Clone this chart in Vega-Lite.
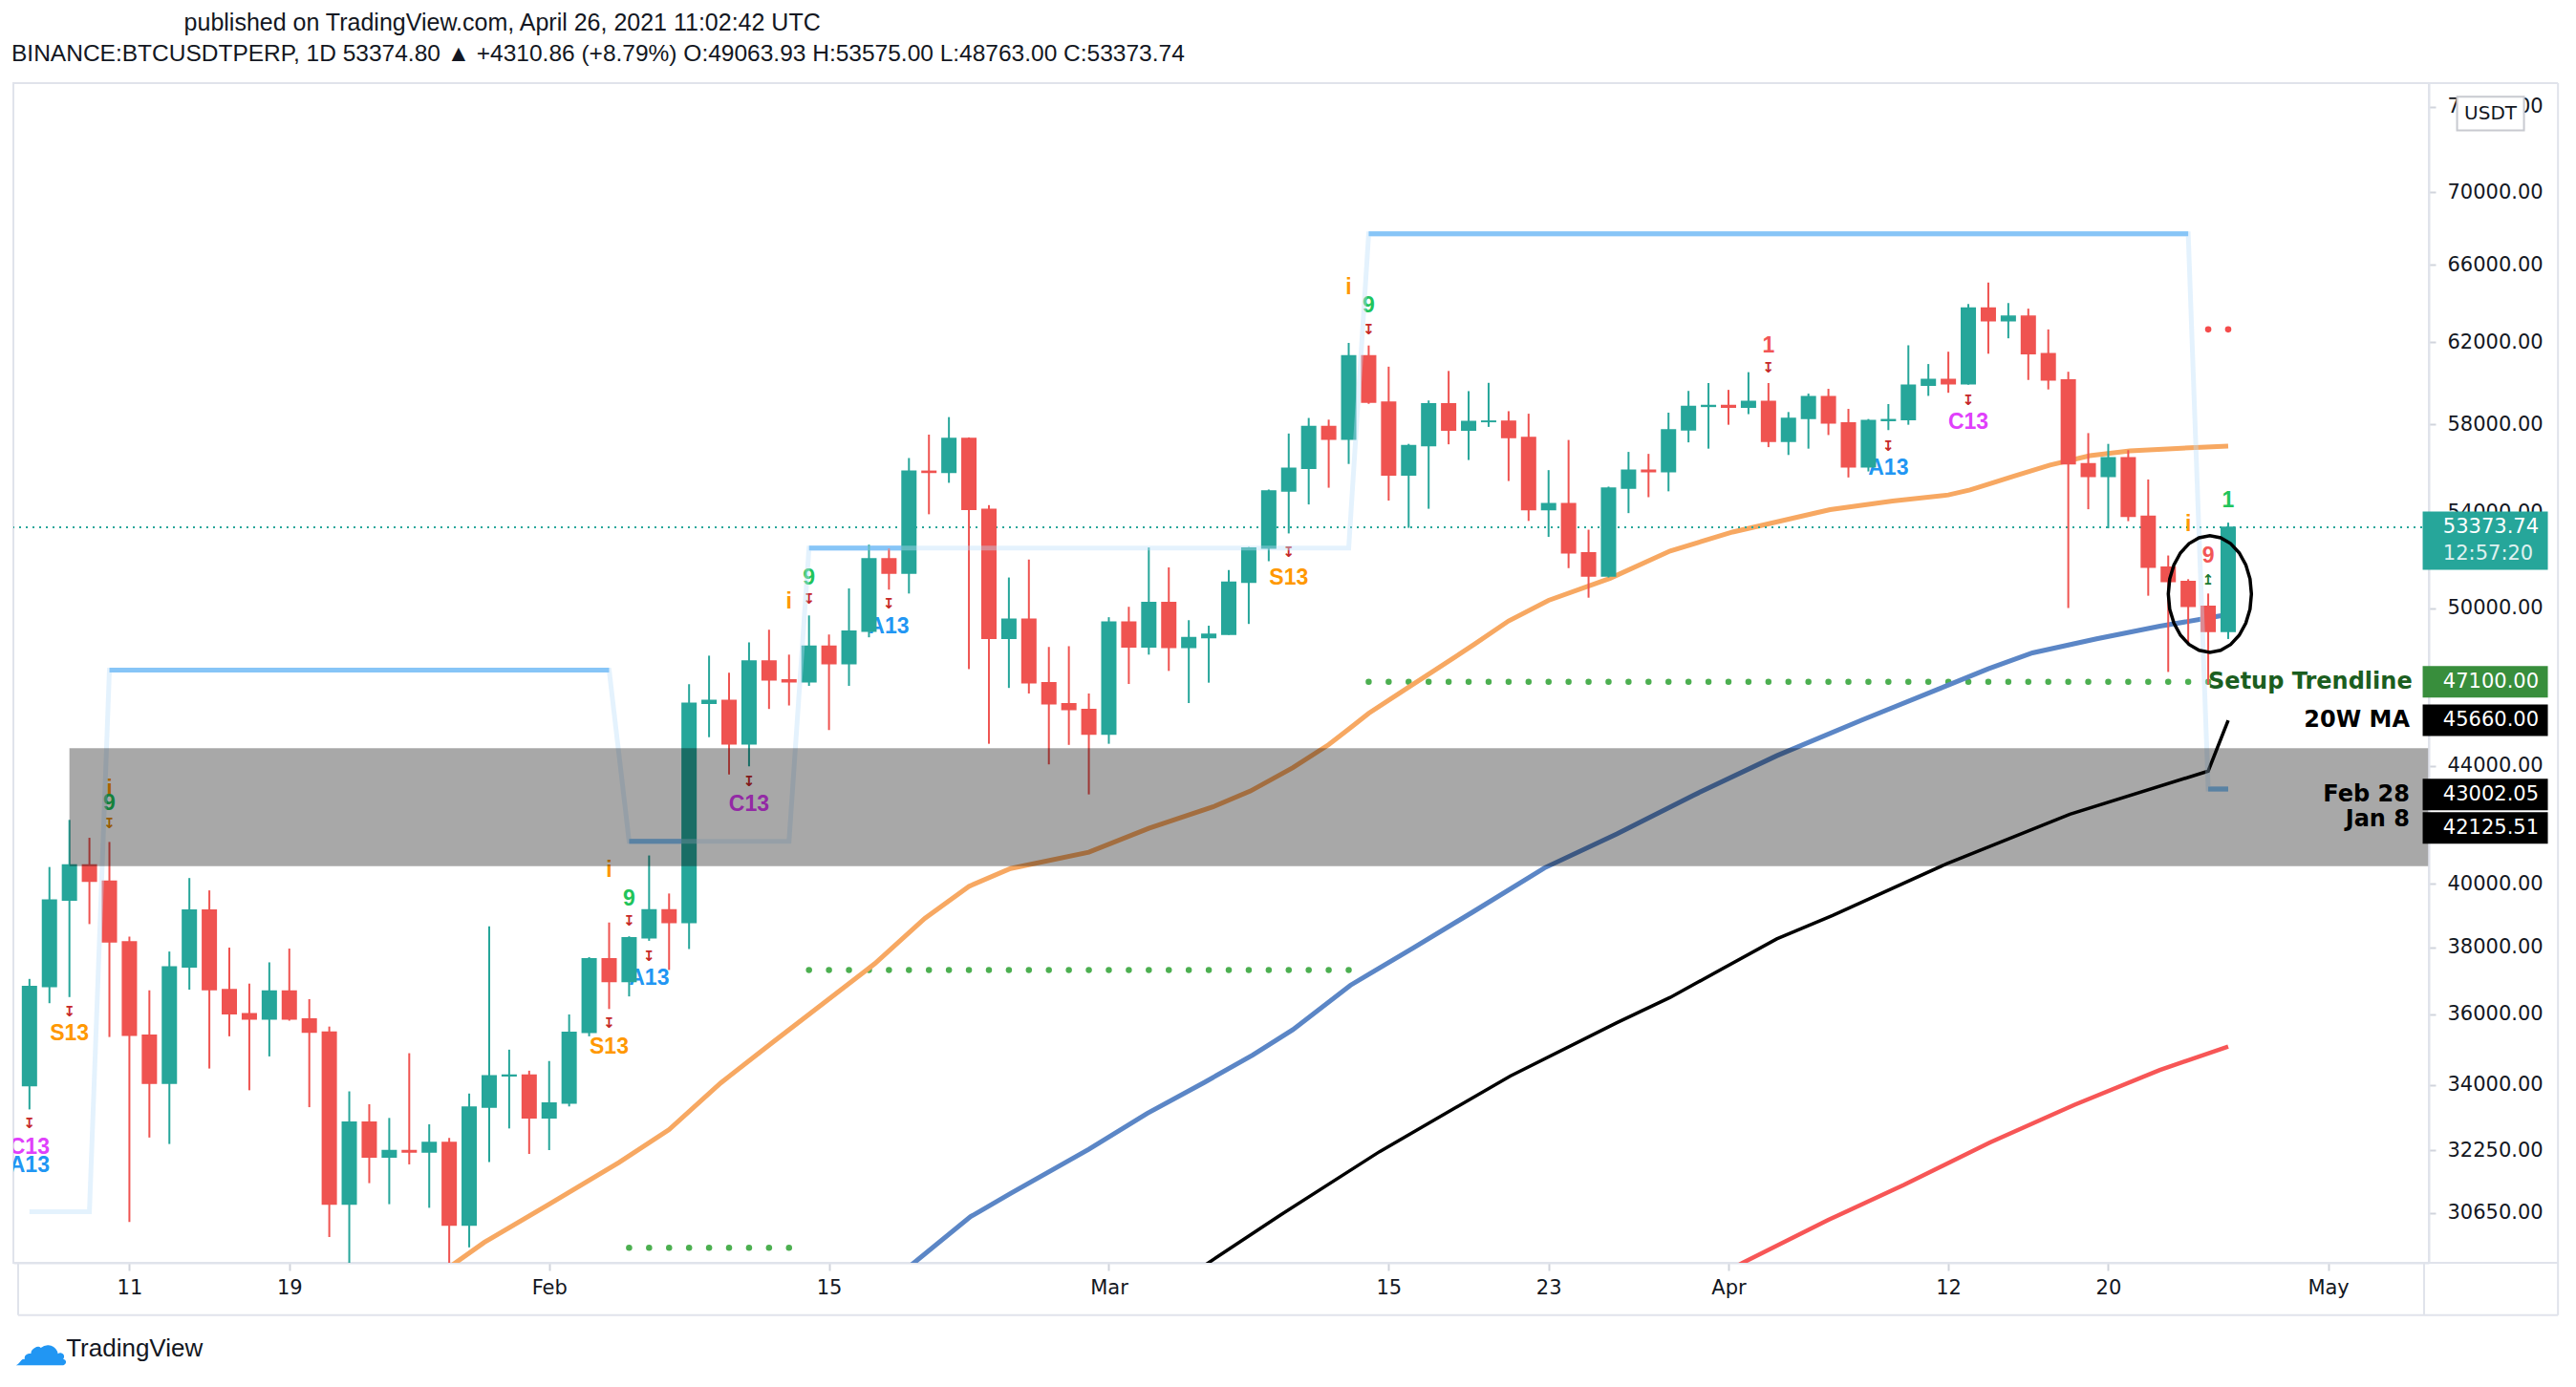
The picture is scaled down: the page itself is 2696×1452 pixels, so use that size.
{
"$schema": "https://vega.github.io/schema/vega-lite/v6.json",
"width": 2528, "height": 1235,
"autosize": {"type": "none"},
"padding": {"left": 14, "top": 87, "right": 154, "bottom": 130},
"background": "#ffffff",
"title": {
 "text": "\u200b\u00a0\u00a0\u00a0\u00a0\u00a0\u00a0\u00a0\u00a0\u00a0\u00a0\u00a0\u00a0\u00a0\u00a0\u00a0\u00a0\u00a0\u00a0\u00a0\u00a0\u00a0\u00a0\u00a0\u00a0\u00a0\u00a0published on TradingView.com, April 26, 2021 11:02:42 UTC",
 "subtitle": "BINANCE:BTCUSDTPERP, 1D 53374.80 ▲ +4310.86 (+8.79%) O:49063.93 H:53575.00 L:48763.00 C:53373.74",
 "anchor": "start", "frame": "group", "dx": -2, "offset": 18,
 "font": "Liberation Sans", "fontSize": 25, "fontWeight": "normal", "color": "#131722",
 "subtitleFont": "Liberation Sans", "subtitleFontSize": 24.5, "subtitleColor": "#131722", "subtitlePadding": 8
},
"config": {"view": {"stroke": "#e0e3eb", "strokeWidth": 2}},
"datasets": {
 "candles": [
  {"d":"2021-01-06","o":33980,"h":37040,"l":33330,"c":36810},
  {"d":"2021-01-07","o":36810,"h":40550,"l":36320,"c":39480},
  {"d":"2021-01-08","o":39480,"h":42125,"l":36500,"c":40620},
  {"d":"2021-01-09","o":40620,"h":41520,"l":38720,"c":40090},
  {"d":"2021-01-10","o":40090,"h":41380,"l":35340,"c":38170},
  {"d":"2021-01-11","o":38170,"h":38330,"l":30430,"c":35390},
  {"d":"2021-01-12","o":35390,"h":36700,"l":32580,"c":34040},
  {"d":"2021-01-13","o":34040,"h":37870,"l":32410,"c":37400},
  {"d":"2021-01-14","o":37400,"h":40190,"l":36720,"c":39160},
  {"d":"2021-01-15","o":39160,"h":39790,"l":34450,"c":36720},
  {"d":"2021-01-16","o":36720,"h":37990,"l":35360,"c":36010},
  {"d":"2021-01-17","o":36010,"h":36900,"l":33850,"c":35860},
  {"d":"2021-01-18","o":35860,"h":37540,"l":34790,"c":36680},
  {"d":"2021-01-19","o":36680,"h":37960,"l":35810,"c":35860},
  {"d":"2021-01-20","o":35860,"h":36440,"l":33390,"c":35480},
  {"d":"2021-01-21","o":35480,"h":35640,"l":30060,"c":30870},
  {"d":"2021-01-22","o":30870,"h":33820,"l":28850,"c":32990},
  {"d":"2021-01-23","o":32990,"h":33470,"l":31400,"c":32070},
  {"d":"2021-01-24","o":32070,"h":33100,"l":30870,"c":32240},
  {"d":"2021-01-25","o":32240,"h":34880,"l":31880,"c":32200},
  {"d":"2021-01-26","o":32200,"h":32930,"l":30780,"c":32450},
  {"d":"2021-01-27","o":32450,"h":32570,"l":29240,"c":30350},
  {"d":"2021-01-28","o":30350,"h":33760,"l":29810,"c":33390},
  {"d":"2021-01-29","o":33390,"h":38650,"l":31940,"c":34250},
  {"d":"2021-01-30","o":34250,"h":34980,"l":32820,"c":34270},
  {"d":"2021-01-31","o":34270,"h":34390,"l":32150,"c":33100},
  {"d":"2021-02-01","o":33100,"h":34660,"l":32250,"c":33500},
  {"d":"2021-02-02","o":33500,"h":35990,"l":33410,"c":35470},
  {"d":"2021-02-03","o":35470,"h":37700,"l":35360,"c":37650},
  {"d":"2021-02-04","o":37650,"h":38770,"l":36150,"c":36960},
  {"d":"2021-02-05","o":36960,"h":38340,"l":36520,"c":38290},
  {"d":"2021-02-06","o":38290,"h":40930,"l":38200,"c":39170},
  {"d":"2021-02-07","o":39170,"h":39690,"l":37310,"c":38770},
  {"d":"2021-02-08","o":38770,"h":47010,"l":37950,"c":46290},
  {"d":"2021-02-09","o":46290,"h":48110,"l":45040,"c":46400},
  {"d":"2021-02-10","o":46400,"h":47450,"l":43700,"c":44800},
  {"d":"2021-02-11","o":44800,"h":48630,"l":43990,"c":47900},
  {"d":"2021-02-12","o":47900,"h":49130,"l":46080,"c":47180},
  {"d":"2021-02-13","o":47180,"h":48150,"l":46210,"c":47100},
  {"d":"2021-02-14","o":47100,"h":49700,"l":46950,"c":48480},
  {"d":"2021-02-15","o":48480,"h":48940,"l":45300,"c":47800},
  {"d":"2021-02-16","o":47800,"h":50800,"l":46950,"c":49070},
  {"d":"2021-02-17","o":49070,"h":52630,"l":48830,"c":52030},
  {"d":"2021-02-18","o":52030,"h":52470,"l":50750,"c":51430},
  {"d":"2021-02-19","o":51430,"h":56450,"l":50590,"c":55850},
  {"d":"2021-02-20","o":55850,"h":57530,"l":53940,"c":55800},
  {"d":"2021-02-21","o":55800,"h":58350,"l":55330,"c":57350},
  {"d":"2021-02-22","o":57350,"h":57400,"l":47590,"c":54150},
  {"d":"2021-02-23","o":54150,"h":54340,"l":44800,"c":48790},
  {"d":"2021-02-24","o":48790,"h":51250,"l":46870,"c":49550},
  {"d":"2021-02-25","o":49550,"h":52000,"l":46660,"c":47070},
  {"d":"2021-02-26","o":47070,"h":48450,"l":44060,"c":46270},
  {"d":"2021-02-27","o":46270,"h":48480,"l":44760,"c":46060},
  {"d":"2021-02-28","o":46060,"h":46660,"l":43002,"c":45150},
  {"d":"2021-03-01","o":45150,"h":49630,"l":44800,"c":49430},
  {"d":"2021-03-02","o":49430,"h":50050,"l":47020,"c":48450},
  {"d":"2021-03-03","o":48450,"h":52510,"l":48150,"c":50220},
  {"d":"2021-03-04","o":50220,"h":51670,"l":47520,"c":48430},
  {"d":"2021-03-05","o":48430,"h":49510,"l":46300,"c":48820},
  {"d":"2021-03-06","o":48820,"h":49290,"l":47070,"c":48950},
  {"d":"2021-03-07","o":48950,"h":51560,"l":48930,"c":51050},
  {"d":"2021-03-08","o":51050,"h":52530,"l":49360,"c":52480},
  {"d":"2021-03-09","o":52480,"h":55030,"l":51930,"c":54970},
  {"d":"2021-03-10","o":54970,"h":57580,"l":53110,"c":55980},
  {"d":"2021-03-11","o":55980,"h":58310,"l":54370,"c":57910},
  {"d":"2021-03-12","o":57910,"h":58230,"l":55110,"c":57320},
  {"d":"2021-03-13","o":57320,"h":61960,"l":56180,"c":61320},
  {"d":"2021-03-14","o":61320,"h":61830,"l":58980,"c":59060},
  {"d":"2021-03-15","o":59060,"h":60780,"l":54540,"c":55680},
  {"d":"2021-03-16","o":55680,"h":57100,"l":53350,"c":57020},
  {"d":"2021-03-17","o":57020,"h":59140,"l":54180,"c":58980},
  {"d":"2021-03-18","o":58980,"h":60570,"l":57080,"c":57740},
  {"d":"2021-03-19","o":57740,"h":59590,"l":56360,"c":58140},
  {"d":"2021-03-20","o":58140,"h":59990,"l":57890,"c":58160},
  {"d":"2021-03-21","o":58160,"h":58630,"l":55410,"c":57390},
  {"d":"2021-03-22","o":57390,"h":58510,"l":53650,"c":54140},
  {"d":"2021-03-23","o":54140,"h":55900,"l":52960,"c":54410},
  {"d":"2021-03-24","o":54410,"h":57280,"l":51640,"c":52280},
  {"d":"2021-03-25","o":52280,"h":53270,"l":50420,"c":51310},
  {"d":"2021-03-26","o":51310,"h":55160,"l":51250,"c":55090},
  {"d":"2021-03-27","o":55090,"h":56730,"l":53990,"c":55900},
  {"d":"2021-03-28","o":55900,"h":56640,"l":54690,"c":55830},
  {"d":"2021-03-29","o":55830,"h":58560,"l":54950,"c":57750},
  {"d":"2021-03-30","o":57750,"h":59600,"l":57170,"c":58860},
  {"d":"2021-03-31","o":58860,"h":59980,"l":56880,"c":58900},
  {"d":"2021-04-01","o":58900,"h":59650,"l":57990,"c":58820},
  {"d":"2021-04-02","o":58820,"h":60510,"l":58490,"c":59090},
  {"d":"2021-04-03","o":59090,"h":59980,"l":56950,"c":57220},
  {"d":"2021-04-04","o":57220,"h":58590,"l":56590,"c":58290},
  {"d":"2021-04-05","o":58290,"h":59470,"l":56880,"c":59320},
  {"d":"2021-04-06","o":59320,"h":59700,"l":57510,"c":58080},
  {"d":"2021-04-07","o":58080,"h":58740,"l":55570,"c":56050},
  {"d":"2021-04-08","o":56050,"h":58260,"l":55840,"c":58190},
  {"d":"2021-04-09","o":58190,"h":58970,"l":57740,"c":58230},
  {"d":"2021-04-10","o":58230,"h":61840,"l":57990,"c":59880},
  {"d":"2021-04-11","o":59880,"h":60910,"l":59360,"c":60150},
  {"d":"2021-04-12","o":60150,"h":61520,"l":59510,"c":59950},
  {"d":"2021-04-13","o":59950,"h":63940,"l":59900,"c":63730},
  {"d":"2021-04-14","o":63730,"h":65060,"l":61420,"c":63080},
  {"d":"2021-04-15","o":63080,"h":63990,"l":62190,"c":63310},
  {"d":"2021-04-16","o":63310,"h":63700,"l":60130,"c":61420},
  {"d":"2021-04-17","o":61420,"h":62640,"l":59670,"c":60130},
  {"d":"2021-04-18","o":60130,"h":60530,"l":50000,"c":56190},
  {"d":"2021-04-19","o":56190,"h":57600,"l":54160,"c":55620},
  {"d":"2021-04-20","o":55620,"h":57100,"l":53330,"c":56460},
  {"d":"2021-04-21","o":56460,"h":56810,"l":53640,"c":53850},
  {"d":"2021-04-22","o":53850,"h":55480,"l":50500,"c":51680},
  {"d":"2021-04-23","o":51680,"h":52170,"l":47480,"c":51080},
  {"d":"2021-04-24","o":51080,"h":51180,"l":48640,"c":50070},
  {"d":"2021-04-25","o":50070,"h":50590,"l":47000,"c":49064},
  {"d":"2021-04-26","o":49064,"h":53575,"l":48763,"c":53374}
 ],
 "ma": [
  {"s":"o","d":"2021-01-26","v":29000},
  {"s":"o","d":"2021-01-28T18:00:00Z","v":29930},
  {"s":"o","d":"2021-02-01","v":30870},
  {"s":"o","d":"2021-02-04T12:00:00Z","v":31930},
  {"s":"o","d":"2021-02-07","v":32790},
  {"s":"o","d":"2021-02-09T14:00:00Z","v":34050},
  {"s":"o","d":"2021-02-12T05:00:00Z","v":35200},
  {"s":"o","d":"2021-02-14T17:00:00Z","v":36310},
  {"s":"o","d":"2021-02-17T07:00:00Z","v":37500},
  {"s":"o","d":"2021-02-19T19:00:00Z","v":38900},
  {"s":"o","d":"2021-02-22","v":39920},
  {"s":"o","d":"2021-02-24T02:00:00Z","v":40500},
  {"s":"o","d":"2021-02-28","v":41040},
  {"s":"o","d":"2021-03-03","v":41840},
  {"s":"o","d":"2021-03-06T05:00:00Z","v":42570},
  {"s":"o","d":"2021-03-08T02:00:00Z","v":43120},
  {"s":"o","d":"2021-03-10T05:00:00Z","v":43940},
  {"s":"o","d":"2021-03-12","v":44770},
  {"s":"o","d":"2021-03-13T07:00:00Z","v":45500},
  {"s":"o","d":"2021-03-14","v":45920},
  {"s":"o","d":"2021-03-16","v":46900},
  {"s":"o","d":"2021-03-17T10:00:00Z","v":47600},
  {"s":"o","d":"2021-03-19T07:00:00Z","v":48560},
  {"s":"o","d":"2021-03-21","v":49480},
  {"s":"o","d":"2021-03-23","v":50310},
  {"s":"o","d":"2021-03-26T02:00:00Z","v":51220},
  {"s":"o","d":"2021-03-29T02:00:00Z","v":52360},
  {"s":"o","d":"2021-04-01T05:00:00Z","v":53170},
  {"s":"o","d":"2021-04-06T02:00:00Z","v":54140},
  {"s":"o","d":"2021-04-09T05:00:00Z","v":54520},
  {"s":"o","d":"2021-04-12","v":54790},
  {"s":"o","d":"2021-04-13T02:00:00Z","v":55010},
  {"s":"o","d":"2021-04-15T07:00:00Z","v":55630},
  {"s":"o","d":"2021-04-17T02:00:00Z","v":56130},
  {"s":"o","d":"2021-04-19T02:00:00Z","v":56560},
  {"s":"o","d":"2021-04-21T02:00:00Z","v":56780},
  {"s":"o","d":"2021-04-23T05:00:00Z","v":56880},
  {"s":"o","d":"2021-04-26","v":57000},
  {"s":"b","d":"2021-02-18T12:00:00Z","v":29150},
  {"s":"b","d":"2021-02-22T02:00:00Z","v":30560},
  {"s":"b","d":"2021-02-24T02:00:00Z","v":31140},
  {"s":"b","d":"2021-02-28","v":32270},
  {"s":"b","d":"2021-03-02T22:00:00Z","v":33220},
  {"s":"b","d":"2021-03-05T19:00:00Z","v":34070},
  {"s":"b","d":"2021-03-08T05:00:00Z","v":34830},
  {"s":"b","d":"2021-03-10T05:00:00Z","v":35550},
  {"s":"b","d":"2021-03-13T02:00:00Z","v":36850},
  {"s":"b","d":"2021-03-16T06:00:00Z","v":37990},
  {"s":"b","d":"2021-03-19T05:00:00Z","v":39100},
  {"s":"b","d":"2021-03-22T19:00:00Z","v":40520},
  {"s":"b","d":"2021-03-26T10:00:00Z","v":41650},
  {"s":"b","d":"2021-03-30T05:00:00Z","v":42960},
  {"s":"b","d":"2021-04-03T10:00:00Z","v":44370},
  {"s":"b","d":"2021-04-07T17:00:00Z","v":45680},
  {"s":"b","d":"2021-04-12","v":46980},
  {"s":"b","d":"2021-04-14","v":47600},
  {"s":"b","d":"2021-04-16T05:00:00Z","v":48220},
  {"s":"b","d":"2021-04-19T10:00:00Z","v":48770},
  {"s":"b","d":"2021-04-22T14:00:00Z","v":49270},
  {"s":"b","d":"2021-04-25T19:00:00Z","v":49710},
  {"s":"b","d":"2021-04-26","v":49790},
  {"s":"k","d":"2021-03-05","v":29100},
  {"s":"k","d":"2021-03-05T22:00:00Z","v":29420},
  {"s":"k","d":"2021-03-09T11:00:00Z","v":30560},
  {"s":"k","d":"2021-03-14T13:00:00Z","v":32210},
  {"s":"k","d":"2021-03-21T02:00:00Z","v":34240},
  {"s":"k","d":"2021-03-26T10:00:00Z","v":35750},
  {"s":"k","d":"2021-03-29T02:00:00Z","v":36490},
  {"s":"k","d":"2021-04-03T10:00:00Z","v":38260},
  {"s":"k","d":"2021-04-06T05:00:00Z","v":38990},
  {"s":"k","d":"2021-04-11T23:00:00Z","v":40670},
  {"s":"k","d":"2021-04-18T02:00:00Z","v":42320},
  {"s":"k","d":"2021-04-25","v":43820},
  {"s":"k","d":"2021-04-26","v":45660},
  {"s":"r","d":"2021-04-01","v":29250},
  {"s":"r","d":"2021-04-01T17:00:00Z","v":29440},
  {"s":"r","d":"2021-04-06","v":30480},
  {"s":"r","d":"2021-04-09T19:00:00Z","v":31360},
  {"s":"r","d":"2021-04-14T02:00:00Z","v":32450},
  {"s":"r","d":"2021-04-18T07:00:00Z","v":33450},
  {"s":"r","d":"2021-04-22T14:00:00Z","v":34410},
  {"s":"r","d":"2021-04-26","v":35070}
 ],
 "tdst": [
  {"d":"2021-01-06","v":30680},{"d":"2021-01-09","v":30680},
  {"d":"2021-01-10","v":47550},{"d":"2021-02-04","v":47550},
  {"d":"2021-02-05","v":41400},{"d":"2021-02-13","v":41400},
  {"d":"2021-02-14","v":52480},{"d":"2021-03-13","v":52480},
  {"d":"2021-03-14","v":67680},{"d":"2021-04-24","v":67680},
  {"d":"2021-04-25","v":43190},{"d":"2021-04-26","v":43190}
 ],
 "tdseg": [
  {"g":"A","d":"2021-01-10","v":47550},{"g":"A","d":"2021-02-04","v":47550},
  {"g":"B","d":"2021-02-05","v":41400},{"g":"B","d":"2021-02-08","v":41400},
  {"g":"C","d":"2021-02-14","v":52480},{"g":"C","d":"2021-02-19","v":52480},
  {"g":"D","d":"2021-03-14","v":67680},{"g":"D","d":"2021-04-24","v":67680},
  {"g":"E","d":"2021-04-25","v":43190},{"g":"E","d":"2021-04-26","v":43190}
 ],
 "dots": [
  {"d":"2021-02-05","v":29800},{"d":"2021-02-06","v":29800},{"d":"2021-02-07","v":29800},{"d":"2021-02-08","v":29800},{"d":"2021-02-09","v":29800},{"d":"2021-02-10","v":29800},{"d":"2021-02-11","v":29800},{"d":"2021-02-12","v":29800},{"d":"2021-02-13","v":29800},
  {"d":"2021-02-14","v":37310},{"d":"2021-02-15","v":37310},{"d":"2021-02-16","v":37310},{"d":"2021-02-17","v":37310},{"d":"2021-02-18","v":37310},{"d":"2021-02-19","v":37310},{"d":"2021-02-20","v":37310},{"d":"2021-02-21","v":37310},{"d":"2021-02-22","v":37310},{"d":"2021-02-23","v":37310},{"d":"2021-02-24","v":37310},{"d":"2021-02-25","v":37310},{"d":"2021-02-26","v":37310},{"d":"2021-02-27","v":37310},{"d":"2021-02-28","v":37310},
  {"d":"2021-03-01","v":37310},{"d":"2021-03-02","v":37310},{"d":"2021-03-03","v":37310},{"d":"2021-03-04","v":37310},{"d":"2021-03-05","v":37310},{"d":"2021-03-06","v":37310},{"d":"2021-03-07","v":37310},{"d":"2021-03-08","v":37310},{"d":"2021-03-09","v":37310},{"d":"2021-03-10","v":37310},{"d":"2021-03-11","v":37310},{"d":"2021-03-12","v":37310},{"d":"2021-03-13","v":37310},
  {"d":"2021-03-14","v":47100},{"d":"2021-03-15","v":47100},{"d":"2021-03-16","v":47100},{"d":"2021-03-17","v":47100},{"d":"2021-03-18","v":47100},{"d":"2021-03-19","v":47100},{"d":"2021-03-20","v":47100},{"d":"2021-03-21","v":47100},{"d":"2021-03-22","v":47100},{"d":"2021-03-23","v":47100},{"d":"2021-03-24","v":47100},{"d":"2021-03-25","v":47100},{"d":"2021-03-26","v":47100},{"d":"2021-03-27","v":47100},{"d":"2021-03-28","v":47100},{"d":"2021-03-29","v":47100},{"d":"2021-03-30","v":47100},{"d":"2021-03-31","v":47100},
  {"d":"2021-04-01","v":47100},{"d":"2021-04-02","v":47100},{"d":"2021-04-03","v":47100},{"d":"2021-04-04","v":47100},{"d":"2021-04-05","v":47100},{"d":"2021-04-06","v":47100},{"d":"2021-04-07","v":47100},{"d":"2021-04-08","v":47100},{"d":"2021-04-09","v":47100},{"d":"2021-04-10","v":47100},{"d":"2021-04-11","v":47100},{"d":"2021-04-12","v":47100},{"d":"2021-04-13","v":47100},{"d":"2021-04-14","v":47100},{"d":"2021-04-15","v":47100},{"d":"2021-04-16","v":47100},{"d":"2021-04-17","v":47100},{"d":"2021-04-18","v":47100},{"d":"2021-04-19","v":47100},{"d":"2021-04-20","v":47100},{"d":"2021-04-21","v":47100},{"d":"2021-04-22","v":47100},{"d":"2021-04-23","v":47100},{"d":"2021-04-24","v":47100},{"d":"2021-04-25","v":47100}
 ],
 "reddots": [{"d":"2021-04-25","v":62640},{"d":"2021-04-26","v":62640}],
 "ann": [
  {"d":"2021-01-06","v":32330,"t":"C13","k":"C"},
  {"d":"2021-01-06","v":31860,"t":"A13","k":"A"},
  {"d":"2021-01-08","v":35450,"t":"S13","k":"S"},
  {"d":"2021-01-10","v":43200,"t":"i","k":"i"},
  {"d":"2021-01-10","v":42690,"t":"9","k":"g"},
  {"d":"2021-02-04","v":40440,"t":"i","k":"i"},
  {"d":"2021-02-05","v":39520,"t":"9","k":"g"},
  {"d":"2021-02-06","v":37050,"t":"A13","k":"A"},
  {"d":"2021-02-04","v":35060,"t":"S13","k":"S"},
  {"d":"2021-02-11","v":42670,"t":"C13","k":"C"},
  {"d":"2021-02-13","v":50260,"t":"i","k":"i"},
  {"d":"2021-02-14","v":51250,"t":"9","k":"g"},
  {"d":"2021-02-18","v":49250,"t":"A13","k":"A"},
  {"d":"2021-03-10","v":51250,"t":"S13","k":"S"},
  {"d":"2021-03-13","v":64810,"t":"i","k":"i"},
  {"d":"2021-03-14","v":63840,"t":"9","k":"g"},
  {"d":"2021-04-03","v":61800,"t":"1","k":"r"},
  {"d":"2021-04-09","v":56000,"t":"A13","k":"A"},
  {"d":"2021-04-13","v":58100,"t":"C13","k":"C"},
  {"d":"2021-04-24","v":53510,"t":"i","k":"i"},
  {"d":"2021-04-25","v":52140,"t":"9","k":"r"},
  {"d":"2021-04-26","v":54530,"t":"1","k":"g"}
 ],
 "arrows": [
  {"d":"2021-01-06","v":32960,"t":"↧","k":"dn"},
  {"d":"2021-01-08","v":36080,"t":"↧","k":"dn"},
  {"d":"2021-01-10","v":42000,"t":"↧","k":"dno"},
  {"d":"2021-02-05","v":38830,"t":"↧","k":"dn"},
  {"d":"2021-02-06","v":37730,"t":"↧","k":"dn"},
  {"d":"2021-02-04","v":35730,"t":"↧","k":"dn"},
  {"d":"2021-02-11","v":43470,"t":"↧","k":"dn"},
  {"d":"2021-02-14","v":50350,"t":"↧","k":"dn"},
  {"d":"2021-02-18","v":50190,"t":"↧","k":"dn"},
  {"d":"2021-03-10","v":52300,"t":"↧","k":"dn"},
  {"d":"2021-03-14","v":62640,"t":"↧","k":"dn"},
  {"d":"2021-04-03","v":60740,"t":"↧","k":"dn"},
  {"d":"2021-04-09","v":57010,"t":"↧","k":"dn"},
  {"d":"2021-04-13","v":59160,"t":"↧","k":"dn"},
  {"d":"2021-04-25","v":51160,"t":"↥","k":"up"}
 ],
 "zone": [{"d":"2021-01-08","d2":"2021-05-06","lo":40580,"hi":44640}],
 "notes": [
  {"d":"2021-05-05T02:00:00Z","v":45660,"t":"20W MA"},
  {"d":"2021-05-05T02:00:00Z","v":43002.05,"t":"Feb 28"},
  {"d":"2021-05-05T02:00:00Z","v":42125.51,"t":"Jan 8"}
 ],
 "setup": [{"d":"2021-04-25","v":47100,"t":"Setup Trendline"}],
 "labels": [
  {"v":47100,"t":"47100.00","k":"g"},
  {"v":45660,"t":"45660.00","k":"b"},
  {"v":43002.05,"t":"43002.05","k":"b"}
 ],
 "labels2": [{"v":42125.51,"t":"42125.51","k":"b"}],
 "last": [{"v":53373.74,"t":"53373.74","t2":"12:57:20"}],
 "ellipse": [{"d":"2021-04-25T02:00:00Z","v":50570}]
},
"layer": [
 {
  "data": {"name": "tdseg"},
  "mark": {"type": "line", "stroke": "#64b5f6", "strokeWidth": 5, "clip": true},
  "encoding": {
   "x": {"field": "d", "type": "temporal", "title": null,
     "scale": {"type": "utc", "domain": [{"year":2021,"month":1,"date":5,"hours":10,"minutes":26,"utc":true},{"year":2021,"month":5,"date":5,"hours":19,"minutes":12,"utc":true}]},
     "axis": {"values": [
       {"year":2021,"month":1,"date":11,"utc":true},{"year":2021,"month":1,"date":19,"utc":true},
       {"year":2021,"month":2,"date":1,"utc":true},{"year":2021,"month":2,"date":15,"utc":true},
       {"year":2021,"month":3,"date":1,"utc":true},{"year":2021,"month":3,"date":15,"utc":true},
       {"year":2021,"month":3,"date":23,"utc":true},{"year":2021,"month":4,"date":1,"utc":true},
       {"year":2021,"month":4,"date":12,"utc":true},{"year":2021,"month":4,"date":20,"utc":true},
       {"year":2021,"month":5,"date":1,"utc":true}],
      "labelExpr": "utcdate(datum.value) == 1 ? utcFormat(datum.value, '%b') : utcFormat(datum.value, '%-d')",
      "labelFont": "DejaVu Sans", "labelFontSize": 21, "labelColor": "#131722", "labelPadding": 7,
      "labelFlush": false, "labelOverlap": false, "tickSize": 8, "tickColor": "#d1d4dc", "tickWidth": 2,
      "domainColor": "#e0e3eb", "domainWidth": 2, "grid": false, "title": null}},
   "y": {"field": "v", "type": "quantitative", "title": null,
     "scale": {"type": "log", "domain": [29440, 76450], "nice": false, "zero": false},
     "axis": {"orient": "right", "values": [30650,32250,34000,36000,38000,40000,44000,50000,54000,58000,62000,66000,70000,75000],
      "format": ".2f", "labelFont": "DejaVu Sans", "labelFontSize": 21, "labelColor": "#131722", "labelPadding": 12,
      "tickSize": 7, "tickColor": "#d1d4dc", "tickWidth": 2, "domainColor": "#e0e3eb", "domainWidth": 2,
      "grid": false, "title": null}},
   "detail": {"field": "g"}
  }
 },
 {
  "data": {"name": "dots"},
  "mark": {"type": "point", "filled": true, "opacity": 1, "size": 42, "color": "#4caf50", "clip": true},
  "encoding": {
   "x": {"field": "d", "type": "temporal", "title": null},
   "y": {"field": "v", "type": "quantitative", "title": null}
  }
 },
 {
  "data": {"name": "ma"},
  "transform": [{"filter": "datum.s == 'o'"}],
  "mark": {"type": "line", "stroke": "#f7a862", "strokeWidth": 5, "clip": true},
  "encoding": {
   "x": {"field": "d", "type": "temporal", "title": null},
   "y": {"field": "v", "type": "quantitative", "title": null}
  }
 },
 {
  "data": {"name": "ma"},
  "transform": [{"filter": "datum.s == 'b'"}],
  "mark": {"type": "line", "stroke": "#5b86c6", "strokeWidth": 5, "clip": true},
  "encoding": {
   "x": {"field": "d", "type": "temporal", "title": null},
   "y": {"field": "v", "type": "quantitative", "title": null}
  }
 },
 {
  "data": {"name": "ma"},
  "transform": [{"filter": "datum.s == 'r'"}],
  "mark": {"type": "line", "stroke": "#f75656", "strokeWidth": 4.5, "clip": true},
  "encoding": {
   "x": {"field": "d", "type": "temporal", "title": null},
   "y": {"field": "v", "type": "quantitative", "title": null}
  }
 },
 {
  "data": {"name": "ma"},
  "transform": [{"filter": "datum.s == 'k'"}],
  "mark": {"type": "line", "stroke": "#000000", "strokeWidth": 3.5, "clip": true},
  "encoding": {
   "x": {"field": "d", "type": "temporal", "title": null},
   "y": {"field": "v", "type": "quantitative", "title": null}
  }
 },
 {
  "data": {"name": "last"},
  "mark": {"type": "rule", "stroke": "#26a69a", "strokeWidth": 2, "strokeDash": [2, 5]},
  "encoding": {
   "y": {"field": "v", "type": "quantitative", "title": null}
  }
 },
 {
  "data": {"name": "ann"},
  "mark": {"type": "text", "font": "Liberation Sans", "fontSize": 23, "fontWeight": "bold", "align": "center", "baseline": "middle", "clip": true},
  "encoding": {
   "x": {"field": "d", "type": "temporal", "title": null},
   "y": {"field": "v", "type": "quantitative", "title": null},
   "text": {"field": "t"},
   "color": {"condition": [
     {"test": "datum.k == 'g'", "value": "#21c45a"},
     {"test": "datum.k == 'r'", "value": "#f25656"},
     {"test": "datum.k == 'C'", "value": "#e040fb"},
     {"test": "datum.k == 'A'", "value": "#2196f3"},
     {"test": "datum.k == 'S'", "value": "#ff9800"},
     {"test": "datum.k == 'i'", "value": "#ff9800"}], "value": "#000000"}
  }
 },
 {
  "data": {"name": "arrows"},
  "mark": {"type": "text", "font": "DejaVu Sans", "fontSize": 15, "fontWeight": "bold", "align": "center", "baseline": "middle", "clip": true},
  "encoding": {
   "x": {"field": "d", "type": "temporal", "title": null},
   "y": {"field": "v", "type": "quantitative", "title": null},
   "text": {"field": "t"},
   "color": {"condition": [
     {"test": "datum.k == 'up'", "value": "#1b7a2e"},
     {"test": "datum.k == 'dno'", "value": "#e68a00"}], "value": "#c62828"}
  }
 },
 {
  "data": {"name": "candles"},
  "mark": {"type": "rule", "strokeWidth": 2, "clip": true},
  "encoding": {
   "x": {"field": "d", "type": "temporal", "title": null},
   "y": {"field": "l", "type": "quantitative", "title": null},
   "y2": {"field": "h"},
   "color": {"condition": {"test": "datum.c >= datum.o", "value": "#26a69a"}, "value": "#ef5350"}
  }
 },
 {
  "data": {"name": "candles"},
  "mark": {"type": "bar", "width": 14.5, "strokeWidth": 1.5, "clip": true},
  "encoding": {
   "x": {"field": "d", "type": "temporal", "title": null},
   "y": {"field": "o", "type": "quantitative", "title": null},
   "y2": {"field": "c"},
   "color": {"condition": {"test": "datum.c >= datum.o", "value": "#26a69a"}, "value": "#ef5350"},
   "stroke": {"condition": {"test": "datum.c >= datum.o", "value": "#26a69a"}, "value": "#ef5350"}
  }
 },
 {
  "data": {"name": "tdst"},
  "mark": {"type": "line", "stroke": "#bbdefb", "strokeWidth": 5, "opacity": 0.4, "clip": true},
  "encoding": {
   "x": {"field": "d", "type": "temporal", "title": null},
   "y": {"field": "v", "type": "quantitative", "title": null}
  }
 },
 {
  "data": {"name": "reddots"},
  "mark": {"type": "point", "filled": true, "opacity": 1, "size": 44, "color": "#f44b4b"},
  "encoding": {
   "x": {"field": "d", "type": "temporal", "title": null},
   "y": {"field": "v", "type": "quantitative", "title": null}
  }
 },
 {
  "data": {"name": "ellipse"},
  "mark": {"type": "point", "filled": false, "opacity": 1, "stroke": "#000000", "strokeWidth": 3.5, "size": 14884,
   "shape": "M0.713,0L0.689,0.259L0.617,0.5L0.504,0.707L0.357,0.866L0.185,0.966L0,1L-0.185,0.966L-0.357,0.866L-0.504,0.707L-0.617,0.5L-0.689,0.259L-0.713,0L-0.689,-0.259L-0.617,-0.5L-0.504,-0.707L-0.357,-0.866L-0.185,-0.966L0,-1L0.185,-0.966L0.357,-0.866L0.504,-0.707L0.617,-0.5L0.689,-0.259Z"},
  "encoding": {
   "x": {"field": "d", "type": "temporal", "title": null},
   "y": {"field": "v", "type": "quantitative", "title": null}
  }
 },
 {
  "data": {"name": "zone"},
  "mark": {"type": "rect", "color": "#000000", "opacity": 0.34, "clip": true},
  "encoding": {
   "x": {"field": "d", "type": "temporal", "title": null},
   "x2": {"field": "d2"},
   "y": {"field": "lo", "type": "quantitative", "title": null},
   "y2": {"field": "hi"}
  }
 },
 {
  "data": {"name": "setup"},
  "mark": {"type": "text", "font": "DejaVu Sans", "fontSize": 24, "fontWeight": "bold", "align": "left", "baseline": "middle", "color": "#1b5e20"},
  "encoding": {
   "x": {"field": "d", "type": "temporal", "title": null},
   "y": {"field": "v", "type": "quantitative", "title": null},
   "text": {"field": "t"}
  }
 },
 {
  "data": {"name": "notes"},
  "mark": {"type": "text", "font": "DejaVu Sans", "fontSize": 24, "fontWeight": "bold", "align": "right", "baseline": "middle", "color": "#000000"},
  "encoding": {
   "x": {"field": "d", "type": "temporal", "title": null},
   "y": {"field": "v", "type": "quantitative", "title": null},
   "text": {"field": "t"}
  }
 },
 {
  "data": {"name": "labels"},
  "mark": {"type": "point", "filled": true, "opacity": 1, "size": 17161, "shape": "M-1,-0.252L1,-0.252L1,0.252L-1,0.252Z"},
  "encoding": {
   "x": {"datum": {"year":2021,"month":5,"date":8,"hours":20,"minutes":40,"utc":true}, "type": "temporal"},
   "y": {"field": "v", "type": "quantitative", "title": null},
   "color": {"condition": {"test": "datum.k == 'g'", "value": "#388e3c"}, "value": "#000000"}
  }
 },
 {
  "data": {"name": "labels2"},
  "mark": {"type": "point", "filled": true, "opacity": 1, "size": 17161, "yOffset": 8.5, "color": "#000000", "shape": "M-1,-0.252L1,-0.252L1,0.252L-1,0.252Z"},
  "encoding": {
   "x": {"datum": {"year":2021,"month":5,"date":8,"hours":20,"minutes":40,"utc":true}, "type": "temporal"},
   "y": {"field": "v", "type": "quantitative", "title": null}
  }
 },
 {
  "data": {"name": "last"},
  "mark": {"type": "point", "filled": true, "opacity": 1, "size": 17161, "color": "#26a69a", "shape": "M-1,-0.252L1,-0.252L1,0.68L-1,0.68Z"},
  "encoding": {
   "x": {"datum": {"year":2021,"month":5,"date":8,"hours":20,"minutes":40,"utc":true}, "type": "temporal"},
   "y": {"field": "v", "type": "quantitative", "title": null}
  }
 },
 {
  "data": {"name": "labels"},
  "mark": {"type": "text", "font": "DejaVu Sans", "fontSize": 21, "align": "left", "baseline": "middle", "color": "#ffffff"},
  "encoding": {
   "x": {"datum": {"year":2021,"month":5,"date":6,"hours":18,"utc":true}, "type": "temporal"},
   "y": {"field": "v", "type": "quantitative", "title": null},
   "text": {"field": "t"}
  }
 },
 {
  "data": {"name": "labels2"},
  "mark": {"type": "text", "font": "DejaVu Sans", "fontSize": 21, "align": "left", "baseline": "middle", "color": "#ffffff", "dy": 8.5},
  "encoding": {
   "x": {"datum": {"year":2021,"month":5,"date":6,"hours":18,"utc":true}, "type": "temporal"},
   "y": {"field": "v", "type": "quantitative", "title": null},
   "text": {"field": "t"}
  }
 },
 {
  "data": {"name": "last"},
  "mark": {"type": "text", "font": "DejaVu Sans", "fontSize": 21, "align": "left", "baseline": "middle", "color": "#ffffff"},
  "encoding": {
   "x": {"datum": {"year":2021,"month":5,"date":6,"hours":18,"utc":true}, "type": "temporal"},
   "y": {"field": "v", "type": "quantitative", "title": null},
   "text": {"field": "t"}
  }
 },
 {
  "data": {"name": "last"},
  "mark": {"type": "text", "font": "DejaVu Sans", "fontSize": 21, "align": "left", "baseline": "middle", "color": "#ffffff", "opacity": 0.85, "dy": 28},
  "encoding": {
   "x": {"datum": {"year":2021,"month":5,"date":6,"hours":18,"utc":true}, "type": "temporal"},
   "y": {"field": "v", "type": "quantitative", "title": null},
   "text": {"field": "t2"}
  }
 },
 {
  "data": {"values": [{"t": "USDT", "v": 74590}]},
  "mark": {"type": "point", "filled": true, "opacity": 1, "fill": "#ffffff", "stroke": "#c8cad0", "strokeWidth": 2, "size": 4900, "shape": "M-1,-0.507L1,-0.507L1,0.507L-1,0.507Z"},
  "encoding": {
   "x": {"datum": {"year":2021,"month":5,"date":9,"hours":3,"utc":true}, "type": "temporal"},
   "y": {"field": "v", "type": "quantitative", "title": null}
  }
 },
 {
  "data": {"values": [{"t": "USDT", "v": 74590}]},
  "mark": {"type": "text", "font": "DejaVu Sans", "fontSize": 20, "align": "center", "baseline": "middle", "color": "#131722"},
  "encoding": {
   "x": {"datum": {"year":2021,"month":5,"date":9,"hours":3,"utc":true}, "type": "temporal"},
   "y": {"field": "v", "type": "quantitative", "title": null},
   "text": {"field": "t"}
  }
 },
 {
  "data": {"values": [{"t": "TradingView", "v": 27460}]},
  "mark": {"type": "text", "font": "Liberation Sans", "fontSize": 26, "align": "left", "baseline": "middle", "color": "#131722"},
  "encoding": {
   "x": {"datum": {"year":2021,"month":1,"date":7,"hours":20,"utc":true}, "type": "temporal"},
   "y": {"field": "v", "type": "quantitative", "title": null},
   "text": {"field": "t"}
  }
 },
 {
  "data": {"values": [{"t": "☁", "v": 27460}]},
  "mark": {"type": "text", "font": "DejaVu Sans", "fontSize": 58, "align": "center", "baseline": "middle", "color": "#2196f3"},
  "encoding": {
   "x": {"datum": {"year":2021,"month":1,"date":6,"hours":14,"utc":true}, "type": "temporal"},
   "y": {"field": "v", "type": "quantitative", "title": null},
   "text": {"field": "t"}
  }
 },
 {
  "data": {"values": [{}]},
  "mark": {"type": "rule", "stroke": "#e0e3eb", "strokeWidth": 2},
  "encoding": {
   "x": {"datum": {"year":2021,"month":5,"date":12,"hours":12,"utc":true}, "type": "temporal"},
   "y": {"datum": 76450, "type": "quantitative"},
   "y2": {"datum": 28220}
  }
 },
 {
  "data": {"values": [{}]},
  "mark": {"type": "rule", "stroke": "#e0e3eb", "strokeWidth": 2},
  "encoding": {
   "x": {"datum": {"year":2021,"month":1,"date":5,"hours":10,"minutes":26,"utc":true}, "type": "temporal"},
   "x2": {"datum": {"year":2021,"month":5,"date":12,"hours":12,"utc":true}},
   "y": {"datum": 28220, "type": "quantitative"}
  }
 },
 {
  "data": {"values": [{}]},
  "mark": {"type": "rule", "stroke": "#e0e3eb", "strokeWidth": 2},
  "encoding": {
   "x": {"datum": {"year":2021,"month":5,"date":5,"hours":19,"minutes":12,"utc":true}, "type": "temporal"},
   "x2": {"datum": {"year":2021,"month":5,"date":12,"hours":12,"utc":true}},
   "y": {"datum": 76450, "type": "quantitative"}
  }
 },
 {
  "data": {"values": [{}]},
  "mark": {"type": "rule", "stroke": "#e0e3eb", "strokeWidth": 2},
  "encoding": {
   "x": {"datum": {"year":2021,"month":5,"date":5,"hours":19,"minutes":12,"utc":true}, "type": "temporal"},
   "x2": {"datum": {"year":2021,"month":5,"date":12,"hours":12,"utc":true}},
   "y": {"datum": 29440, "type": "quantitative"}
  }
 },
 {
  "data": {"values": [{}]},
  "mark": {"type": "rule", "stroke": "#e0e3eb", "strokeWidth": 2},
  "encoding": {
   "x": {"datum": {"year":2021,"month":1,"date":5,"hours":10,"minutes":26,"utc":true}, "type": "temporal"},
   "y": {"datum": 29440, "type": "quantitative"},
   "y2": {"datum": 28220}
  }
 },
 {
  "data": {"values": [{}]},
  "mark": {"type": "rule", "stroke": "#e0e3eb", "strokeWidth": 2},
  "encoding": {
   "x": {"datum": {"year":2021,"month":5,"date":5,"hours":19,"minutes":12,"utc":true}, "type": "temporal"},
   "y": {"datum": 29440, "type": "quantitative"},
   "y2": {"datum": 28220}
  }
 }
]
}
